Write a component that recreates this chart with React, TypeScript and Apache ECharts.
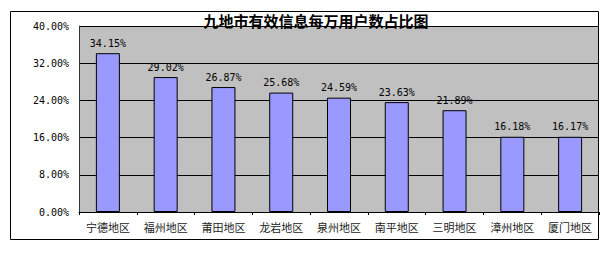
import React, { useEffect, useRef } from "react";
import * as echarts from "echarts";

const titleText = "九地市有效信息每万用户数占比图";
const categories = ["宁德地区", "福州地区", "莆田地区", "龙岩地区", "泉州地区", "南平地区", "三明地区", "漳州地区", "厦门地区"];
const shares = [34.15, 29.02, 26.87, 25.68, 24.59, 23.63, 21.89, 16.18, 16.17];
const yTicks = [0, 8, 16, 24, 32, 40];

export default function App() {
  const ref = useRef<HTMLDivElement>(null);
  useEffect(() => {
    if (!ref.current) return;
    const chart = echarts.init(ref.current, undefined, { renderer: "svg" });
    const mono = "'DejaVu Sans Mono', monospace";
    chart.setOption({
      animation: false,
      backgroundColor: "#ffffff",
      graphic: [
        {
          type: "rect",
          shape: { x: 10.5, y: 11.5, width: 588, height: 228 },
          style: { fill: "none", stroke: "#000", lineWidth: 1 },
          z: 0,
          silent: true,
        },
        {
          type: "text",
          x: 316,
          y: 20,
          style: {
            text: titleText,
            fill: "#000",
            font: "bold 15px 'Noto Sans CJK SC'",
            textAlign: "center",
            textVerticalAlign: "middle",
          },
        },
      ],
      grid: {
        left: 79,
        top: 26,
        right: 10,
        bottom: 46,
        show: true,
        backgroundColor: "#C0C0C0",
        borderWidth: 0,
      },
      xAxis: {
        type: "category",
        data: categories,
        axisLine: { show: true, lineStyle: { color: "#000", width: 1 } },
        axisTick: { show: true, length: 3, alignWithLabel: false, lineStyle: { color: "#000" } },
        axisLabel: {
          margin: 9,
          fontSize: 11,
          fontFamily: "'Noto Sans CJK SC'",
          color: "#222",
          interval: 0,
        },
      },
      yAxis: {
        type: "value",
        min: yTicks[0],
        max: yTicks[yTicks.length - 1],
        interval: 8,
        axisLine: { show: true, lineStyle: { color: "#333", width: 1 } },
        axisTick: { show: false },
        splitLine: { show: true, lineStyle: { color: "#000", width: 1 } },
        axisLabel: {
          margin: 10,
          fontSize: 10,
          fontFamily: mono,
          color: "#000",
          formatter: (v: number) => v.toFixed(2) + "%",
        },
      },
      series: [
        {
          type: "bar",
          data: shares,
          barWidth: 24,
          itemStyle: { color: "#9999FF", borderColor: "#000", borderWidth: 1 },
          label: {
            show: true,
            position: "top",
            distance: 5,
            fontSize: 10,
            fontFamily: mono,
            color: "#000",
            formatter: (p: any) => Number(p.value).toFixed(2) + "%",
          },
        },
      ],
    });
    return () => chart.dispose();
  }, []);
  return (
    <div
      ref={ref}
      style={{ position: "fixed", left: 0, top: 0, width: 609, height: 258 }}
    />
  );
}
